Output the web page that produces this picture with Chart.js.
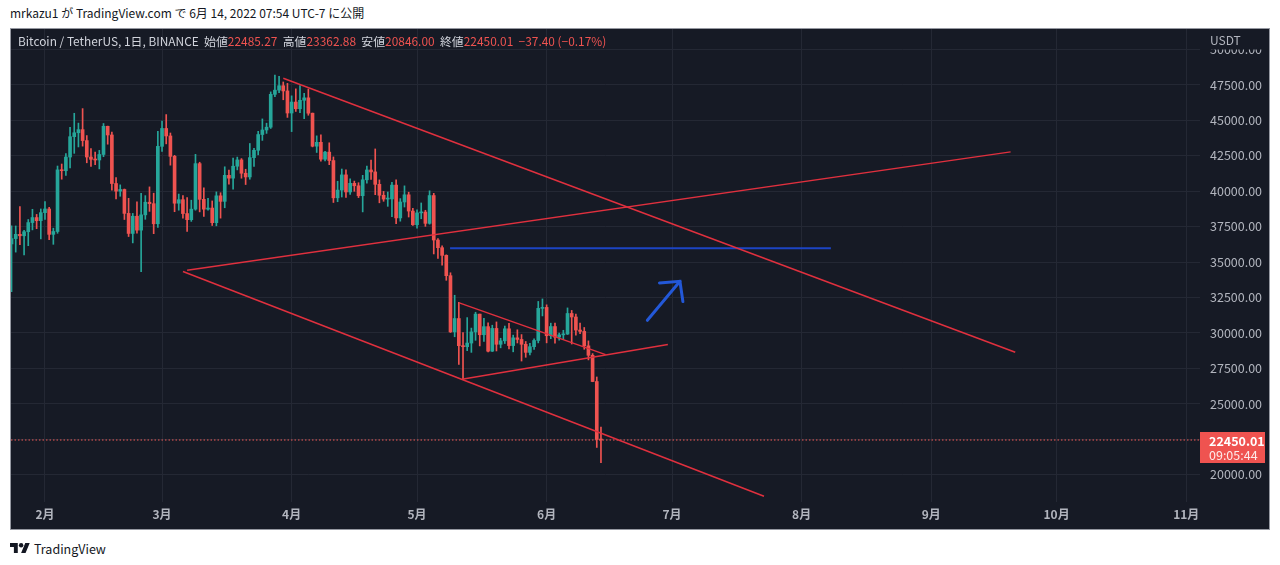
<!DOCTYPE html>
<html>
<head>
<meta charset="utf-8">
<script src="https://cdn.jsdelivr.net/npm/chart.js@4.4.1/dist/chart.umd.min.js"></script>
<style>
html,body{margin:0;padding:0;background:#ffffff;width:1280px;height:565px;overflow:hidden;font-family:"Noto Sans CJK JP","Noto Sans",sans-serif;}
#hdr{position:absolute;left:10px;top:4px;font-size:12px;color:#131722;line-height:18px;white-space:nowrap;}
#box{position:absolute;left:10px;top:28px;width:1260px;height:502px;box-sizing:border-box;border:1px solid #9598a1;background:#161a25;}
#box canvas{display:block;position:absolute;left:0;top:0;}
#legend{position:absolute;left:7px;top:4px;font-size:11.9px;color:#d1d4dc;white-space:pre;line-height:16px;z-index:2;}
#legend .v{color:#ef5350;}
#ftr{position:absolute;left:10px;top:539px;height:18px;display:flex;align-items:center;font-size:12.5px;color:#131722;}
#ftr svg{margin-right:4px;}
</style>
</head>
<body>
<div id="hdr">mrkazu1 が TradingView.com で 6月 14, 2022 07:54 UTC-7 に公開</div>
<div id="box">
  <canvas id="c" width="1258" height="500"></canvas>
  <div id="legend">Bitcoin / TetherUS, 1日, BINANCE  始値<span class="v">22485.27</span>  高値<span class="v">23362.88</span>  安値<span class="v">20846.00</span>  終値<span class="v">22450.01</span>  <span class="v">−37.40 (−0.17%)</span></div>
</div>
<div id="ftr"><svg width="20" height="10" viewBox="0 4 36 18"><path fill="#131722" d="M14 22H7V11H0V4h14v18zM28 22h-8l7.5-18h8L28 22z"/><circle fill="#131722" cx="20" cy="8" r="4"/></svg><span>TradingView</span></div>

<script>
// ---------- DATA ----------
// Daily candles BINANCE BTCUSDT, 2022-01-24 .. 2022-06-14
const firstDate = '2022-01-24';
const opens = [
 36276,36654,36954,36852,37138,37784,38138,37917,
 38483,38743,36952,37154,41500,41441,42406,43840,44118,44338,43565,42407,42244,42197,42586,44575,43961,40538,40001,40118,38431,37017,38230,37250,38328,39219,39116,37699,
 43160,44421,43892,42454,39148,39397,38420,37988,38730,41941,39422,38729,38807,37777,39671,39280,41114,40917,41757,42201,41262,41002,42364,42882,43991,44313,44511,46827,47122,47434,47067,
 45510,46283,45811,46407,46580,45497,43170,43444,42252,42753,42158,39530,40075,41147,39942,40552,40378,39678,40801,41493,41358,40480,39709,39441,39450,40426,38112,39235,39742,38596,
 37630,38468,38525,37728,39690,36552,36013,35472,34039,30076,31017,29103,29029,29287,30074,31329,29874,30444,28715,30319,29201,29445,30293,29109,29655,29542,29201,28629,29031,29468,31734,
 31801,29805,30452,29700,29865,29920,31373,31125,30204,30110,29091,28424,26574,22485.27
];
const highs = [
 37550,37545,38919,37234,38000,38720,38359,38744,
 39265,38855,37387,41772,41913,42656,44500,45492,44798,45821,43920,43000,42760,42876,44770,44585,44164,40959,40444,40150,39494,38429,39249,39843,39683,40300,39855,44225,
 44949,45400,44101,42527,39794,39693,39547,39362,42594,42039,40236,39486,39310,39947,39887,41718,41478,42325,42400,42296,41544,43361,43025,44220,45094,44792,46999,48189,48096,47700,47600,
 46720,47213,47444,46890,47200,45507,43900,43970,42800,43410,42414,40699,41561,41500,40870,40709,40595,41116,41760,42199,42976,40795,39980,39940,40616,40797,39474,40372,39925,38795,
 38675,39167,38651,40023,39845,36653,36146,35510,34243,32658,32162,30032,31083,30343,31460,31329,31025,30709,30545,30777,29625,30487,30670,29845,30223,29886,29397,29266,29587,32222,32399,
 31982,30690,30699,29988,30189,31765,31589,31330,30700,30385,29440,28544,26895,23362.88
];
const lows = [
 32917,35701,36234,35507,36155,37268,37351,36632,
 38000,36586,36250,37026,40843,41116,41645,42666,43117,43174,42000,41748,41870,41569,42428,43311,40073,39450,39639,38000,36800,36350,37036,34322,38014,38573,37000,37450,
 42809,43334,41832,38550,38656,38088,37155,37867,38656,38539,38223,38660,37578,37555,38098,38828,40500,40135,41499,40911,40467,40840,41751,42560,43579,44072,44421,46663,46950,46445,45200,
 44200,45620,45530,45118,45353,43121,42727,42107,42125,41868,39200,39254,39588,39551,39766,39991,39546,38536,40571,40820,39751,39177,39285,38929,38200,37702,37881,38881,38175,37578,
 37386,38052,37517,37670,35571,35258,34785,33713,30033,29731,27785,26700,28751,28630,29480,29087,29404,28654,28691,28730,28950,29255,28866,28669,29294,28019,28282,28450,28839,29299,31200,
 29301,29594,29282,29485,29532,29892,29218,29843,29944,28850,28099,26560,21925,20846
];
const closes = [
 36654,36954,36852,37138,37784,38138,37917,38483,
 38743,36952,37154,41500,41441,42406,43840,44118,44338,43565,42407,42244,42197,42586,44575,43961,40538,40001,40118,38431,37017,38230,37250,38328,39219,39116,37699,43160,
 44421,43892,42454,39148,39397,38420,37988,38730,41941,39422,38729,38807,37777,39671,39280,41114,40917,41757,42201,41262,41002,42364,42882,43991,44313,44511,46827,47122,47434,47067,45510,
 46283,45811,46407,46580,45497,43170,43444,42252,42753,42158,39530,40075,41147,39942,40552,40378,39678,40801,41493,41358,40480,39709,39441,39450,40426,38112,39235,39742,38596,37630,
 38468,38525,37728,39690,36552,36013,35472,34039,30076,31017,29103,29029,29287,30074,31329,29874,30444,28715,30319,29201,29445,30293,29109,29655,29542,29201,28629,29031,29468,31734,31801,
 29805,30452,29700,29865,29920,31373,31125,30204,30110,29091,28424,26574,22487,22450.01
];
const lastClose = 22450.01;
const countdownText = '09:05:44';

// Axis ticks (x in days since 2022-01-01)
const monthTicks  = [31, 59, 90, 120, 151, 181, 212, 243, 273, 304];
const monthLabels = ['2月','3月','4月','5月','6月','7月','8月','9月','10月','11月'];
const priceTicks  = [20000,22500,25000,27500,30000,32500,35000,37500,40000,42500,45000,47500,50000];

// Drawings (x = day since 2022-01-01, y = price)
const upperTrend  = [[88.0, 47960], [263.1, 28635]];
const risingTrend = [[65.0, 34420], [262.0, 42770]];
const lowerTrend  = [[64.0, 34330], [203.0, 18480]];
const triUpper    = [[130.1, 32120], [165.1, 28470]];
const triLower    = [[131.1, 26760], [180.0, 29180]];
const targetLine  = [[127.9, 35970], [219.0, 35970]];
const arrowShaft  = [[175.1, 30890], [182.9, 33640]];
const arrowHead   = [[178.0, 33530], [182.9, 33640], [183.6, 32210]];

// View range
const xMin = 22.87, xMax = 307.3;
const yMin = 18078, yMax = 51435;

// ---------- CHART ----------
const UP = '#26a69a', DOWN = '#ef5350', BG = '#161a25', GRID = '#242834', TXT = '#b2b5be';
const FAM = '"Noto Sans CJK JP","Noto Sans",sans-serif';
const jan1 = Date.UTC(2022,0,1);
const start = Date.parse(firstDate + 'T00:00:00Z');
const days = opens.map((_, i) => Math.round((start - jan1) / 86400000) + i);
const colorOf = i => closes[i] >= opens[i] ? UP : DOWN;
const pts = arr => arr.map(p => ({x: p[0], y: p[1]}));

const lineDs = (arr, color, width, extra) => Object.assign({
  type: 'line', data: pts(arr), borderColor: color, borderWidth: width,
  pointRadius: 0, tension: 0, fill: false, order: 0
}, extra || {});

const overlay = {
  id: 'overlay',
  afterDraw(chart) {
    const {ctx, chartArea, scales: {y}} = chart;
    const r = chartArea.right;
    ctx.save();
    ctx.fillStyle = BG;
    ctx.fillRect(r + 1, 0, chart.width - r, 20.5);
    ctx.fillStyle = TXT;
    ctx.font = '12px ' + FAM;
    ctx.textBaseline = 'middle';
    ctx.textAlign = 'left';
    ctx.fillText('USDT', r + 10, 11);
    const py = y.getPixelForValue(lastClose);
    ctx.fillStyle = DOWN;
    ctx.fillRect(r, Math.round(py) - 8, 65, 31);
    ctx.fillStyle = '#ffffff';
    ctx.font = 'bold 12.5px ' + FAM;
    ctx.fillText(lastClose.toFixed(2), r + 9, py + 1);
    ctx.fillStyle = 'rgba(255,255,255,0.88)';
    ctx.font = '12.5px ' + FAM;
    ctx.fillText(countdownText, r + 9, py + 15);
    ctx.restore();
  }
};

new Chart(document.getElementById('c'), {
  type: 'bar',
  data: {
    datasets: [
      lineDs(upperTrend, '#e0303e', 1.5),
      lineDs(risingTrend, '#e0303e', 1.5),
      lineDs(lowerTrend, '#e0303e', 1.5),
      lineDs(triUpper, '#e0303e', 1.5),
      lineDs(triLower, '#e0303e', 1.5),
      lineDs(targetLine, '#1c44c4', 2),
      lineDs(arrowShaft, '#2358d8', 3, {borderCapStyle: 'round'}),
      lineDs(arrowHead, '#2358d8', 3, {borderCapStyle: 'round', borderJoinStyle: 'miter'}),
      lineDs([[xMin, lastClose], [xMax, lastClose]], '#f05a57', 1.2, {borderDash: [1.5, 2], order: 3}),
      {
        type: 'bar', order: 1, grouped: false,
        data: days.map((d, i) => ({x: d, y: [opens[i], closes[i]]})),
        backgroundColor: days.map((_, i) => colorOf(i)),
        barThickness: 3, minBarLength: 1, borderWidth: 0
      },
      {
        type: 'bar', order: 2, grouped: false,
        data: days.map((d, i) => ({x: d, y: [lows[i], highs[i]]})),
        backgroundColor: days.map((_, i) => colorOf(i)),
        barThickness: 1, borderWidth: 0
      }
    ]
  },
  options: {
    responsive: false,
    animation: false,
    events: [],
    layout: {padding: 0},
    plugins: {legend: {display: false}, tooltip: {enabled: false}},
    scales: {
      x: {
        type: 'linear', min: xMin, max: xMax, offset: false,
        afterBuildTicks: s => { s.ticks = monthTicks.map(v => ({value: v})); },
        afterFit: s => { s.height = 27; s.paddingLeft = 0; s.paddingRight = 0; },
        ticks: {
          autoSkip: false, maxRotation: 0, padding: 5, color: TXT,
          font: {family: FAM, size: 12, weight: 'bold'},
          callback: (v, i) => monthLabels[i]
        },
        grid: {color: GRID, drawTicks: false, offset: false},
        border: {display: false}
      },
      y: {
        type: 'linear', position: 'right', min: yMin, max: yMax,
        afterBuildTicks: s => { s.ticks = priceTicks.map(v => ({value: v})); },
        afterFit: s => { s.width = 69; s.paddingTop = 0; s.paddingBottom = 0; },
        ticks: {
          padding: 10, color: TXT,
          font: {family: FAM, size: 12.5},
          callback: v => Number(v).toFixed(2)
        },
        grid: {color: GRID, drawTicks: false},
        border: {display: false}
      }
    }
  },
  plugins: [overlay]
});
</script>
</body>
</html>
